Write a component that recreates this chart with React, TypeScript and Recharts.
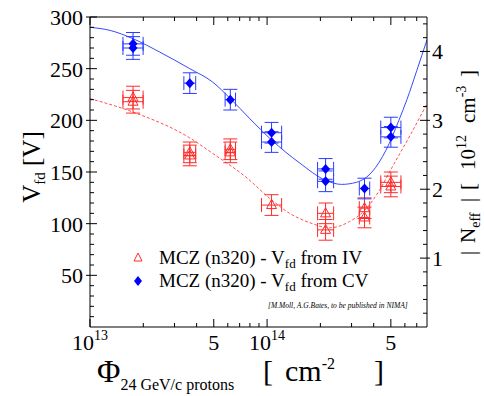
import React from "react";
import {
  ComposedChart,
  Line,
  Scatter,
  XAxis,
  YAxis,
  ErrorBar,
  Legend,
  Customized,
} from "recharts";

const FONT = "'Liberation Serif', 'Times New Roman', serif";
const RED = "#ff2a2a";
const BLUE = "#0000ff";

// V_fd from IV (red triangles)
const ivFluence = [1.75e13, 1.75e13, 3.66e13, 3.66e13, 6.2e13, 6.2e13, 1.06e14, 2.14e14, 2.14e14, 3.55e14, 3.55e14, 5.0e14, 5.0e14];
const ivVoltage = [222, 218, 169, 166, 172, 169, 118, 110, 94, 115, 106, 140, 136];
const ivVoltErr = [11, 11, 10, 10, 10, 10, 10, 10, 10, 10, 10, 10, 10];
const ivFluenceErr = [0.14, 0.14, 0.08, 0.08, 0.07, 0.07, 0.14, 0.11, 0.11, 0.07, 0.07, 0.14, 0.14];

// V_fd from CV (blue diamonds)
const cvFluence = [1.75e13, 1.75e13, 3.66e13, 6.2e13, 1.06e14, 1.06e14, 2.14e14, 2.14e14, 3.55e14, 5.0e14, 5.0e14];
const cvVoltage = [274, 270, 236, 220, 188, 179, 153, 141, 134, 193, 184];
const cvVoltErr = [11, 11, 10, 10, 10, 10, 10, 10, 10, 10, 10];
const cvFluenceErr = [0.14, 0.14, 0.08, 0.07, 0.14, 0.14, 0.11, 0.11, 0.07, 0.14, 0.14];

// fitted curves
const cvFitFluence = [1e13, 1.3e13, 1.75e13, 2.48e13, 3.66e13, 4.93e13, 6.2e13, 7.95e13, 1.06e14, 1.52e14, 2.14e14, 2.63e14, 3.19e14, 3.91e14, 4.69e14, 5.55e14, 6.16e14, 7.0e14, 8.0e14];
const cvFitVoltage = [290, 287, 279, 266, 250, 237, 221, 202, 181, 159, 142, 138, 140, 150, 171, 200, 220, 248, 278];
const ivFitFluence = [1e13, 1.75e13, 3.66e13, 4.93e13, 7.6e13, 1.06e14, 1.34e14, 1.74e14, 2.25e14, 2.92e14, 3.56e14, 4.3e14, 5.1e14, 6.4e14, 8.0e14];
const ivFitVoltage = [221, 208, 183, 168, 145, 123, 110, 101, 96, 102, 113, 132, 155, 185, 216];

// ticks
const xMajor = [1e13, 5e13, 1e14, 5e14];
const xMinor = [2e13, 3e13, 4e13, 6e13, 7e13, 8e13, 9e13, 2e14, 3e14, 4e14, 6e14, 7e14];
const xLabelBase = ["10", "5", "10", "5"];
const xLabelExp = ["13", "", "14", ""];
const vMajor = [50, 100, 150, 200, 250, 300];
const nMajor = [1, 2, 3, 4];

const xTicks = [...xMajor, ...xMinor].sort((a, b) => a - b);
const vTicks = Array.from({ length: 30 }, (_, i) => (i + 1) * 10);
const nTicks = Array.from({ length: 22 }, (_, i) => (i + 1) / 5);

const build = (f: number[], v: number[], ev: number[], ef: number[]) =>
  f.map((x, i) => ({ x, v: v[i], ey: ev[i], ex: [x - x / (1 + ef[i]), x * ef[i]] }));

const ivData = build(ivFluence, ivVoltage, ivVoltErr, ivFluenceErr);
const cvData = build(cvFluence, cvVoltage, cvVoltErr, cvFluenceErr);
const cvFit = cvFitFluence.map((x, i) => ({ x, v: cvFitVoltage[i] }));
const ivFit = ivFitFluence.map((x, i) => ({ x, v: ivFitVoltage[i] }));

const BottomTick = ({ x, y, payload }: any) => {
  const idx = xMajor.indexOf(payload.value);
  const major = idx >= 0;
  return (
    <g>
      <line x1={x} x2={x} y1={y} y2={y - (major ? 8 : 4)} stroke="#000" />
      {major && (
        <text x={x} y={y + 23} textAnchor="middle" fontSize={22} fontFamily={FONT} fill="#000">
          <tspan>{xLabelBase[idx]}</tspan>
          {xLabelExp[idx] && (
            <tspan dy={-10} fontSize={14}>
              {xLabelExp[idx]}
            </tspan>
          )}
        </text>
      )}
    </g>
  );
};

const TopTick = ({ x, y, payload }: any) => {
  const major = xMajor.includes(payload.value);
  return <line x1={x} x2={x} y1={y} y2={y + (major ? 8 : 4)} stroke="#000" />;
};

const LeftTick = ({ x, y, payload }: any) => {
  const major = vMajor.includes(payload.value);
  return (
    <g>
      <line x1={major ? x - 4 : x} x2={x + (major ? 7 : 4)} y1={y} y2={y} stroke="#000" />
      {major && (
        <text x={x - 7} y={y + 8} textAnchor="end" fontSize={22} fontFamily={FONT} fill="#000">
          {payload.value}
        </text>
      )}
    </g>
  );
};

const RightTick = ({ x, y, payload }: any) => {
  const major = nMajor.some((n) => Math.abs(n - payload.value) < 1e-6);
  return (
    <g>
      <line x1={major ? x + 3 : x} x2={x - (major ? 7 : 4)} y1={y} y2={y} stroke="#000" />
      {major && (
        <text x={x + 5} y={y + 8} textAnchor="start" fontSize={22} fontFamily={FONT} fill="#000">
          {Math.round(payload.value)}
        </text>
      )}
    </g>
  );
};

const TriangleDot = ({ cx, cy }: any) => (
  <polygon
    points={`${cx},${cy - 5.5} ${cx - 5},${cy + 3.5} ${cx + 5},${cy + 3.5}`}
    fill="none"
    stroke={RED}
    strokeWidth={1}
  />
);

const DiamondDot = ({ cx, cy }: any) => (
  <polygon points={`${cx},${cy - 5} ${cx + 4.5},${cy} ${cx},${cy + 5} ${cx - 4.5},${cy}`} fill={BLUE} />
);

const LegendBox = () => (
  <svg width={260} height={50} style={{ display: "block" }}>
    <polygon points="12,7 8,15 16,15" fill="none" stroke={RED} />
    <polygon points="12,30 16,35 12,40 8,35" fill={BLUE} />
    <text x={33} y={18} fontSize={19} fontFamily={FONT} fill="#000">
      MCZ (n320) - V<tspan dy={4} fontSize={13}>fd</tspan>
      <tspan dy={-4}> from IV</tspan>
    </text>
    <text x={33} y={41} fontSize={19} fontFamily={FONT} fill="#000">
      MCZ (n320) - V<tspan dy={4} fontSize={13}>fd</tspan>
      <tspan dy={-4}> from CV</tspan>
    </text>
  </svg>
);

const Titles = () => (
  <g fontFamily={FONT}>
    <text transform="translate(40,167) rotate(-90)" textAnchor="middle" fontSize={25} fill="#000">
      V<tspan dy={5} fontSize={15}>fd</tspan>
      <tspan dy={-5}>{"\u00a0[V]"}</tspan>
    </text>
    <text transform="translate(475,255) rotate(-90)" fontSize={21} fill="#000">
      <tspan x={0}>|</tspan>
      <tspan x={12}>N</tspan>
      <tspan dy={5} fontSize={14}>eff</tspan>
      <tspan x={53} dy={-5}>|</tspan>
      <tspan x={65}>[</tspan>
      <tspan x={85}>10</tspan>
      <tspan dy={-9} fontSize={14}>12</tspan>
      <tspan x={132} dy={9}>cm</tspan>
      <tspan dy={-9} fontSize={14}>-3</tspan>
      <tspan x={178} dy={9}>]</tspan>
    </text>
    <text x={97} y={382} fontSize={32} fill="#000">
      Φ<tspan dy={8} fontSize={16}>24 GeV/c protons</tspan>
      <tspan x={263} dy={-9} fontSize={30}>[</tspan>
      <tspan x={285} fontSize={30}>cm</tspan>
      <tspan dy={-12} fontSize={16}>-2</tspan>
      <tspan x={374} dy={12} fontSize={30}>]</tspan>
    </text>
    <text x={268} y={308} fontSize={7.5} fontStyle="italic" fill="#000">
      [M.Moll, A.G.Bates, to be published in NIMA]
    </text>
  </g>
);

export default function App() {
  return (
    <div style={{ position: "absolute", left: 0, top: 0, width: 484, height: 396 }}>
      <ComposedChart
        width={484}
        height={396}
        margin={{ top: 16, right: 17, bottom: 39, left: 30 }}
        style={{ fontFamily: FONT }}
      >
        <XAxis
          xAxisId="bottom"
          dataKey="x"
          type="number"
          scale="log"
          domain={[1e13, 8e14]}
          allowDataOverflow
          ticks={xTicks}
          interval={0}
          tickSize={0}
          tickMargin={0}
          tickLine={false}
          tick={<BottomTick />}
          height={30}
          axisLine={{ stroke: "#000" }}
        />
        <XAxis
          xAxisId="top"
          orientation="top"
          dataKey="x"
          type="number"
          scale="log"
          domain={[1e13, 8e14]}
          allowDataOverflow
          ticks={xTicks}
          interval={0}
          tickSize={0}
          tickMargin={0}
          tickLine={false}
          tick={<TopTick />}
          height={1}
          axisLine={{ stroke: "#000" }}
        />
        <YAxis
          yAxisId="v"
          type="number"
          domain={[0, 300]}
          allowDataOverflow
          ticks={vTicks}
          interval={0}
          tickSize={0}
          tickMargin={0}
          tickLine={false}
          tick={<LeftTick />}
          width={60}
          axisLine={{ stroke: "#000" }}
        />
        <YAxis
          yAxisId="n"
          orientation="right"
          type="number"
          domain={[0, 4.5]}
          allowDataOverflow
          ticks={nTicks}
          interval={0}
          tickSize={0}
          tickMargin={0}
          tickLine={false}
          tick={<RightTick />}
          width={40}
          axisLine={{ stroke: "#000" }}
        />
        <Line
          data={ivFit}
          xAxisId="bottom"
          yAxisId="v"
          dataKey="v"
          type="monotone"
          stroke="#ff5050"
          strokeWidth={1}
          strokeDasharray="3 2"
          dot={false}
          isAnimationActive={false}
          legendType="none"
        />
        <Line
          data={cvFit}
          xAxisId="bottom"
          yAxisId="v"
          dataKey="v"
          type="monotone"
          stroke="#3848ff"
          strokeWidth={1}
          dot={false}
          isAnimationActive={false}
          legendType="none"
        />
        <Scatter
          name="MCZ (n320) - Vfd from IV"
          data={ivData}
          xAxisId="bottom"
          yAxisId="v"
          dataKey="v"
          fill={RED}
          shape={<TriangleDot />}
          isAnimationActive={false}
        >
          <ErrorBar dataKey="ey" direction="y" width={7} stroke={RED} strokeWidth={1} />
          <ErrorBar dataKey="ex" direction="x" width={7} stroke={RED} strokeWidth={1} />
        </Scatter>
        <Scatter
          name="MCZ (n320) - Vfd from CV"
          data={cvData}
          xAxisId="bottom"
          yAxisId="v"
          dataKey="v"
          fill={BLUE}
          shape={<DiamondDot />}
          isAnimationActive={false}
        >
          <ErrorBar dataKey="ey" direction="y" width={7} stroke="#2a3cff" strokeWidth={1} />
          <ErrorBar dataKey="ex" direction="x" width={7} stroke="#2a3cff" strokeWidth={1} />
        </Scatter>
        <Legend
          layout="vertical"
          align="center"
          verticalAlign="middle"
          content={<LegendBox />}
          wrapperStyle={{ left: 126, top: 246, width: 260, height: 50 }}
        />
        <Customized component={<Titles />} />
      </ComposedChart>
    </div>
  );
}
